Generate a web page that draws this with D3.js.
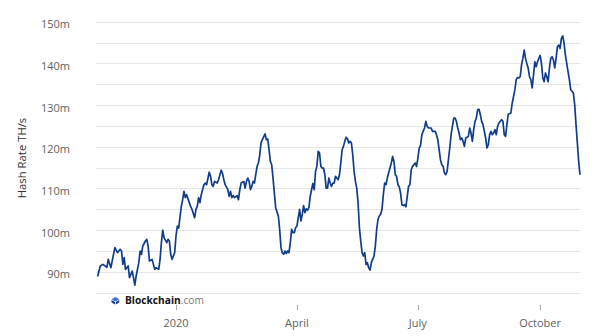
<!DOCTYPE html>
<html>
<head>
<meta charset="utf-8">
<script src="https://cdn.jsdelivr.net/npm/d3@7"></script>
<style>
  html, body { margin: 0; padding: 0; background: #fff; }
  svg { display: block; font-family: "Open Sans", sans-serif; }
</style>
</head>
<body>
<svg id="chart" width="600" height="336"></svg>
<script>
const dates = [
"2019-11-03","2019-11-05","2019-11-07","2019-11-10","2019-11-11","2019-11-13","2019-11-16","2019-11-18","2019-11-20","2019-11-21",
"2019-11-22","2019-11-23","2019-11-24","2019-11-26","2019-11-27","2019-11-29","2019-11-30","2019-12-01","2019-12-02","2019-12-04",
"2019-12-05","2019-12-06","2019-12-07","2019-12-09","2019-12-10","2019-12-11","2019-12-12","2019-12-14","2019-12-15","2019-12-16",
"2019-12-17","2019-12-19","2019-12-20","2019-12-21","2019-12-22","2019-12-23","2019-12-25","2019-12-26","2019-12-27","2019-12-28",
"2019-12-29","2019-12-31",
"2020-01-01","2020-01-02","2020-01-03","2020-01-05","2020-01-06","2020-01-07","2020-01-08","2020-01-09","2020-01-11","2020-01-12",
"2020-01-13","2020-01-15","2020-01-16","2020-01-17","2020-01-18","2020-01-19","2020-01-20","2020-01-22","2020-01-23","2020-01-24",
"2020-01-26","2020-01-27","2020-01-28","2020-01-29","2020-01-30","2020-02-01","2020-02-02","2020-02-04","2020-02-05","2020-02-06",
"2020-02-07","2020-02-09","2020-02-10","2020-02-11","2020-02-12","2020-02-13","2020-02-14","2020-02-16","2020-02-17","2020-02-18",
"2020-02-19","2020-02-21","2020-02-22","2020-02-23","2020-02-24","2020-02-25","2020-02-26","2020-02-27","2020-02-28","2020-02-29",
"2020-03-01","2020-03-02","2020-03-03","2020-03-04","2020-03-05","2020-03-06","2020-03-08","2020-03-09","2020-03-10","2020-03-11",
"2020-03-12","2020-03-13","2020-03-14","2020-03-15","2020-03-16","2020-03-18","2020-03-19","2020-03-20","2020-03-21","2020-03-22",
"2020-03-23","2020-03-24","2020-03-25","2020-03-26","2020-03-27","2020-03-28","2020-03-29","2020-03-30","2020-03-31","2020-04-01",
"2020-04-02","2020-04-03","2020-04-04","2020-04-05","2020-04-06","2020-04-07","2020-04-08","2020-04-09","2020-04-10","2020-04-11",
"2020-04-12","2020-04-13","2020-04-14","2020-04-15","2020-04-16","2020-04-17","2020-04-18","2020-04-19","2020-04-20","2020-04-21",
"2020-04-22","2020-04-23","2020-04-24","2020-04-25","2020-04-26","2020-04-27","2020-04-28","2020-04-29","2020-04-30","2020-05-01",
"2020-05-02","2020-05-03","2020-05-04","2020-05-05","2020-05-06","2020-05-07","2020-05-08","2020-05-09","2020-05-10","2020-05-11",
"2020-05-12","2020-05-13","2020-05-14","2020-05-15","2020-05-16","2020-05-17","2020-05-18","2020-05-19","2020-05-20","2020-05-21",
"2020-05-22","2020-05-23","2020-05-24","2020-05-25","2020-05-26","2020-05-27","2020-05-28","2020-05-29","2020-05-30","2020-05-31",
"2020-06-01","2020-06-02","2020-06-03","2020-06-04","2020-06-05","2020-06-06","2020-06-07","2020-06-08","2020-06-09","2020-06-10",
"2020-06-11","2020-06-12","2020-06-13","2020-06-14","2020-06-15","2020-06-16","2020-06-17","2020-06-18","2020-06-19","2020-06-20",
"2020-06-21","2020-06-22","2020-06-23","2020-06-24","2020-06-25","2020-06-26","2020-06-27","2020-06-28","2020-06-29","2020-06-30",
"2020-07-01","2020-07-02","2020-07-03","2020-07-04","2020-07-06","2020-07-07","2020-07-08","2020-07-09","2020-07-11","2020-07-12",
"2020-07-14","2020-07-15","2020-07-16","2020-07-17","2020-07-18","2020-07-19","2020-07-20","2020-07-21","2020-07-22","2020-07-23",
"2020-07-24","2020-07-25","2020-07-26","2020-07-27","2020-07-28","2020-07-29","2020-07-30","2020-07-31","2020-08-01","2020-08-02",
"2020-08-03","2020-08-04","2020-08-05","2020-08-06","2020-08-07","2020-08-08","2020-08-09","2020-08-10","2020-08-11","2020-08-12",
"2020-08-13","2020-08-14","2020-08-15","2020-08-16","2020-08-17","2020-08-18","2020-08-19","2020-08-20","2020-08-21","2020-08-22",
"2020-08-23","2020-08-24","2020-08-25","2020-08-26","2020-08-27","2020-08-28","2020-08-29","2020-08-30","2020-08-31","2020-09-01",
"2020-09-02","2020-09-03","2020-09-04","2020-09-05","2020-09-06","2020-09-07","2020-09-09","2020-09-10","2020-09-11","2020-09-12",
"2020-09-13","2020-09-14","2020-09-15","2020-09-16","2020-09-17","2020-09-18","2020-09-19","2020-09-20","2020-09-21","2020-09-22",
"2020-09-23","2020-09-24","2020-09-25","2020-09-26","2020-09-27","2020-09-28","2020-09-29","2020-09-30","2020-10-01","2020-10-02",
"2020-10-03","2020-10-04","2020-10-05","2020-10-06","2020-10-07","2020-10-08","2020-10-09","2020-10-10","2020-10-11","2020-10-12",
"2020-10-13","2020-10-14","2020-10-15","2020-10-16","2020-10-17","2020-10-18","2020-10-19","2020-10-20","2020-10-21","2020-10-22",
"2020-10-23","2020-10-24","2020-10-25","2020-10-26","2020-10-27","2020-10-28","2020-10-29","2020-10-30","2020-10-31"
];

// Hash rate in millions of TH/s
const hashRate = [
88.9,91.4,91.8,91.1,93.0,91.0,95.8,94.6,95.4,95.0,
91.8,93.4,90.6,91.4,88.6,90.2,88.6,86.8,89.0,92.2,
95.0,94.2,96.2,97.4,97.8,96.2,92.6,93.0,91.8,90.6,
91.0,90.6,93.0,97.0,100.0,98.2,97.0,97.8,97.4,94.2,
93.0,94.6,
98.6,101.0,100.5,105.7,107.3,109.3,107.8,108.5,106.6,105.7,
105.0,103.0,105.0,105.7,107.8,106.6,108.5,110.9,111.3,110.9,
113.9,112.9,110.9,110.5,111.7,111.3,112.1,114.4,113.6,112.1,
110.9,109.7,108.1,109.3,107.8,108.3,107.8,108.3,107.3,109.7,
111.3,111.7,110.1,111.7,112.5,111.7,109.7,110.5,111.7,111.3,
113.3,115.3,116.1,118.0,121.0,121.7,123.1,121.7,121.9,119.3,
116.5,115.7,112.5,108.9,105.4,103.4,100.2,95.8,94.6,94.2,
95.0,94.4,95.0,94.6,97.0,100.2,99.4,99.4,100.6,101.0,
103.0,105.0,102.2,103.8,105.9,104.2,105.1,104.8,105.4,108.1,
109.7,111.2,109.7,114.1,115.3,118.9,118.5,115.3,114.9,114.9,
113.3,110.1,110.1,112.5,111.3,110.5,111.3,111.3,112.9,112.5,
112.1,113.3,116.1,119.3,120.1,121.3,122.3,121.9,120.9,121.3,
120.9,118.1,114.1,111.7,110.1,106.6,100.6,97.4,94.6,93.8,
94.6,91.8,92.2,91.0,90.4,92.2,93.0,93.8,96.2,100.2,
102.6,103.4,103.8,105.0,108.5,111.3,110.9,112.5,113.7,114.9,
116.1,117.7,116.5,113.3,112.9,110.9,110.4,108.9,106.1,105.9,
106.1,105.6,108.1,110.5,110.9,114.5,115.3,115.7,116.1,115.3,
117.3,119.7,120.3,122.9,124.5,126.1,124.9,124.5,124.5,123.7,
123.7,122.9,121.7,119.3,116.9,115.7,115.3,113.7,113.3,114.1,
116.9,119.7,122.9,124.9,126.9,126.9,126.1,124.5,123.3,121.7,
122.1,121.3,120.1,122.1,122.3,122.5,124.5,123.3,121.3,124.1,
126.1,126.9,128.9,129.0,127.7,126.1,125.3,123.7,122.1,119.7,
120.5,122.9,123.7,122.9,123.3,124.1,122.9,124.9,125.7,126.1,
126.5,126.1,122.9,122.5,125.3,127.8,128.1,130.5,132.1,133.7,
136.1,136.6,136.5,136.8,139.6,141.2,143.2,141.2,140.0,138.9,
136.8,136.1,134.1,137.2,140.4,139.2,140.4,141.2,141.9,140.0,
136.5,135.6,137.7,136.8,135.6,138.9,141.2,141.6,140.8,138.9,
141.2,144.0,144.4,143.6,146.0,146.6,144.8,142.0,140.0,138.0,
136.1,133.7,133.3,132.9,130.1,125.3,120.9,116.5,113.3
];

const gridValues = [85,90,95,100,105,110,115,120,125,130,135,140,145,150];
const yLabelValues = [90,100,110,120,130,140,150];
const xTickDates = ["2020-01-01","2020-04-01","2020-07-01","2020-10-01"];
const xTickLabels = ["2020","April","July","October"];

const parse = d3.timeParse("%Y-%m-%d");
const data = dates.map((d, i) => ({ date: parse(d), value: hashRate[i] }));

const svg = d3.select("#chart");
const plotLeft = 96, plotRight = 580;

const x = d3.scaleTime()
  .domain(d3.extent(data, d => d.date))
  .range([97.6, 580]);
const y = d3.scaleLinear()
  .domain([85, 150])
  .range([292.7, 21.7]);

// gridlines
svg.append("g").selectAll("line")
  .data(gridValues)
  .join("line")
  .attr("x1", plotLeft).attr("x2", plotRight)
  .attr("y1", d => Math.round(y(d)) + 0.5)
  .attr("y2", d => Math.round(y(d)) + 0.5)
  .attr("stroke", "#e6e6e6")
  .attr("stroke-width", 1);

// y labels
svg.append("g").selectAll("text")
  .data(yLabelValues)
  .join("text")
  .attr("x", 70)
  .attr("y", d => y(d) + 6.5)
  .attr("text-anchor", "end")
  .attr("font-size", 11)
  .attr("fill", "#5f5f5f")
  .text(d => d + "m");

// y title
svg.append("text")
  .attr("transform", "translate(26,158) rotate(-90)")
  .attr("text-anchor", "middle")
  .attr("font-size", 11.3)
  .attr("fill", "#333")
  .text("Hash Rate TH/s");

// x ticks
const xt = svg.append("g");
xt.selectAll("line")
  .data(xTickDates)
  .join("line")
  .attr("x1", d => Math.round(x(parse(d))) + 0.5)
  .attr("x2", d => Math.round(x(parse(d))) + 0.5)
  .attr("y1", 305).attr("y2", 310)
  .attr("stroke", "#aaa");
xt.selectAll("text")
  .data(xTickDates)
  .join("text")
  .attr("x", d => x(parse(d)))
  .attr("y", 327)
  .attr("text-anchor", "middle")
  .attr("font-size", 11)
  .attr("fill", "#5f5f5f")
  .text((d, i) => xTickLabels[i]);

// watermark
const wm = svg.append("g");
wm.append("path")
  .attr("d", "M115.4,297 L119.3,299.2 L115.4,301.4 L111.5,299.2 Z")
  .attr("fill", "#3b6fd1");
wm.append("path")
  .attr("d", "M111.5,300 L115,302 L115,304.6 L111.5,302.6 Z M119.3,300 L115.8,302 L115.8,304.6 L119.3,302.6 Z")
  .attr("fill", "#1b3f8f");
const wt = wm.append("text")
  .attr("x", 125)
  .attr("y", 304)
  .attr("font-size", 10.2);
wt.append("tspan").attr("font-weight", 700).attr("fill", "#111").text("Blockchain");
wt.append("tspan").attr("fill", "#777").text(".com");

// line
const line = d3.line()
  .x(d => x(d.date))
  .y(d => y(d.value))
  .curve(d3.curveLinear);

svg.append("path")
  .datum(data)
  .attr("fill", "none")
  .attr("stroke", "#103d8a")
  .attr("stroke-width", 1.7)
  .attr("stroke-linejoin", "round")
  .attr("d", line);
</script>
</body>
</html>
